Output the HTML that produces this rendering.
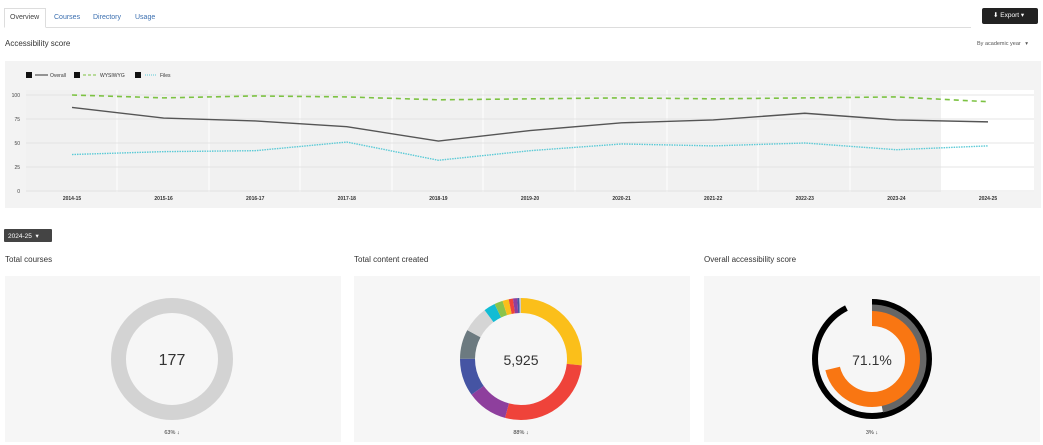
<!DOCTYPE html>
<html><head><meta charset="utf-8"><style>
*{margin:0;padding:0;box-sizing:border-box}
body{width:1043px;height:445px;background:#fff;font-family:"Liberation Sans",sans-serif;position:relative;overflow:hidden;color:#333}
.a{position:absolute}
.tab{font-size:7px;color:#3b6fb0;top:14px}
.ttl{font-size:8px;top:255px;color:#333}
</style></head><body>
<div class="a" style="left:4px;top:8px;width:42px;height:20px;border:1px solid #ddd;border-bottom:1px solid #fff;background:#fff"></div>
<div class="a" style="left:46px;top:27px;width:925px;height:1px;background:#ddd"></div>
<div class="a tab" style="left:10px;color:#444">Overview</div>
<div class="a tab" style="left:54px">Courses</div>
<div class="a tab" style="left:93px">Directory</div>
<div class="a tab" style="left:135px">Usage</div>
<div class="a" style="left:982px;top:8px;width:56px;height:16px;background:#222;border-radius:2px;color:#fff;font-size:6.5px;line-height:16px;padding-left:11px;white-space:nowrap">⬇ Export ▾</div>
<div class="a" style="left:5px;top:39px;font-size:8px">Accessibility score</div>
<div class="a" style="left:977px;top:41px;font-size:5.5px;color:#555">By academic year &nbsp; ▾</div>
<svg class="a" style="left:0;top:0" width="1043" height="445">
<rect x="5" y="61" width="1036" height="147" fill="#f3f3f3"/>
<rect x="26" y="90" width="1008" height="102" fill="#f1f1f1"/>
<rect x="941" y="90" width="93" height="102" fill="#fff"/>
<g stroke="#fff" stroke-width="1">
<line x1="117" y1="90" x2="117" y2="192"/><line x1="209" y1="90" x2="209" y2="192"/><line x1="300" y1="90" x2="300" y2="192"/><line x1="392" y1="90" x2="392" y2="192"/><line x1="483" y1="90" x2="483" y2="192"/><line x1="575" y1="90" x2="575" y2="192"/><line x1="667" y1="90" x2="667" y2="192"/><line x1="758" y1="90" x2="758" y2="192"/><line x1="850" y1="90" x2="850" y2="192"/>
</g>
<g stroke="#e4e4e4" stroke-width="1">
<line x1="26" y1="95" x2="1034" y2="95"/><line x1="26" y1="119" x2="1034" y2="119"/><line x1="26" y1="143" x2="1034" y2="143"/><line x1="26" y1="167" x2="1034" y2="167"/><line x1="26" y1="191" x2="1034" y2="191"/>
</g>
<g font-size="5" fill="#444" text-anchor="end">
<text x="20" y="97">100</text><text x="20" y="121">75</text><text x="20" y="145">50</text><text x="20" y="169">25</text><text x="20" y="193">0</text>
</g>
<g font-size="5" fill="#333" font-weight="bold" text-anchor="middle" id="xl"></g>
<polyline id="w" fill="none" stroke="#7cc242" stroke-width="1.6" stroke-dasharray="5,4"/>
<polyline id="o" fill="none" stroke="#555" stroke-width="1.4"/>
<polyline id="f" fill="none" stroke="#5bcad6" stroke-width="1.4" stroke-dasharray="1.5,1"/>
<g font-size="5" fill="#333">
<rect x="26" y="72" width="6" height="6" fill="#111"/><line x1="35" y1="75" x2="48" y2="75" stroke="#333"/><text x="50" y="77">Overall</text>
<rect x="74" y="72" width="6" height="6" fill="#111"/><line x1="83" y1="75" x2="97" y2="75" stroke="#7cc242" stroke-dasharray="3,2"/><text x="100" y="77">WYSIWYG</text>
<rect x="135" y="72" width="6" height="6" fill="#111"/><line x1="145" y1="75" x2="157" y2="75" stroke="#5bcad6" stroke-dasharray="1,1"/><text x="160" y="77">Files</text>
</g>
<rect x="4" y="229" width="48" height="13" rx="1" fill="#444"/>
<text x="8" y="238" font-size="6.5" fill="#fff">2024-25 &nbsp;▾</text>
<rect x="5" y="276" width="336" height="166" fill="#f6f6f6"/>
<rect x="354" y="276" width="336" height="166" fill="#f6f6f6"/>
<rect x="704" y="276" width="336" height="166" fill="#f6f6f6"/>
<circle cx="172" cy="359" r="53.5" fill="none" stroke="#d3d3d3" stroke-width="15"/>
<g id="d2"></g>
<g id="d3"></g>
<g text-anchor="middle" fill="#333">
<text x="172" y="365" font-size="16">177</text>
<text x="521" y="365" font-size="14">5,925</text>
<text x="872" y="365" font-size="14">71.1%</text>
<text x="172" y="434" font-size="5.5">63% ↓</text>
<text x="521" y="434" font-size="5.5">88% ↓</text>
<text x="872" y="434" font-size="5.5">3% ↓</text>
</g>
</svg>
<div class="a ttl" style="left:5px">Total courses</div>
<div class="a ttl" style="left:354px">Total content created</div>
<div class="a ttl" style="left:704px">Overall accessibility score</div>
<script>
var NS="http://www.w3.org/2000/svg";
function Y(v){return 191-0.96*v}
var yrs=["2014-15","2015-16","2016-17","2017-18","2018-19","2019-20","2020-21","2021-22","2022-23","2023-24","2024-25"];
var O=[87,76,73,67,52,63,71,74,81,74,72],W=[100,97,99,98,95,96,97,96,97,98,93],F=[38,41,42,51,32,42,49,47,50,43,47];
function pts(a){return a.map(function(v,i){return (72+i*91.6)+","+Y(v)}).join(" ")}
document.getElementById("o").setAttribute("points",pts(O));
document.getElementById("w").setAttribute("points",pts(W));
document.getElementById("f").setAttribute("points",pts(F));
var xl=document.getElementById("xl");
yrs.forEach(function(y,i){var t=document.createElementNS(NS,"text");t.setAttribute("x",72+i*91.6);t.setAttribute("y",200);t.textContent=y;xl.appendChild(t)});
function arc(g,cx,cy,r,w,a0,a1,col){var C=2*Math.PI*r;var c=document.createElementNS(NS,"circle");
c.setAttribute("cx",cx);c.setAttribute("cy",cy);c.setAttribute("r",r);c.setAttribute("fill","none");c.setAttribute("stroke",col);c.setAttribute("stroke-width",w);
c.setAttribute("stroke-dasharray",((a1-a0)/360*C)+" "+C);c.setAttribute("stroke-dashoffset",-(a0/360*C));
c.setAttribute("transform","rotate(-90 "+cx+" "+cy+")");g.appendChild(c)}
var d2=document.getElementById("d2");
var segs=[[0,96,"#fbbf1a"],[96,195,"#ef433a"],[195,234,"#8e3f9d"],[234,270,"#4554a3"],[270,298,"#6c7a80"],[298,323,"#d5d5d5"],[323,334,"#12bcd4"],[334,342,"#8bc34a"],[342,348,"#fbbf1a"],[348,352,"#ef433a"],[352,356,"#8e3f9d"],[356,358,"#4554a3"],[358,360,"#ccc"]];
segs.forEach(function(s){arc(d2,521,359,53.5,15,s[0],s[1],s[2])});
var d3=document.getElementById("d3");
arc(d3,872,359,57,6,0,333,"#000");
arc(d3,872,359,50.5,8,0,168,"#666");
arc(d3,872,359,40.5,15,0,256,"#f97612");
</script>
</body></html>
